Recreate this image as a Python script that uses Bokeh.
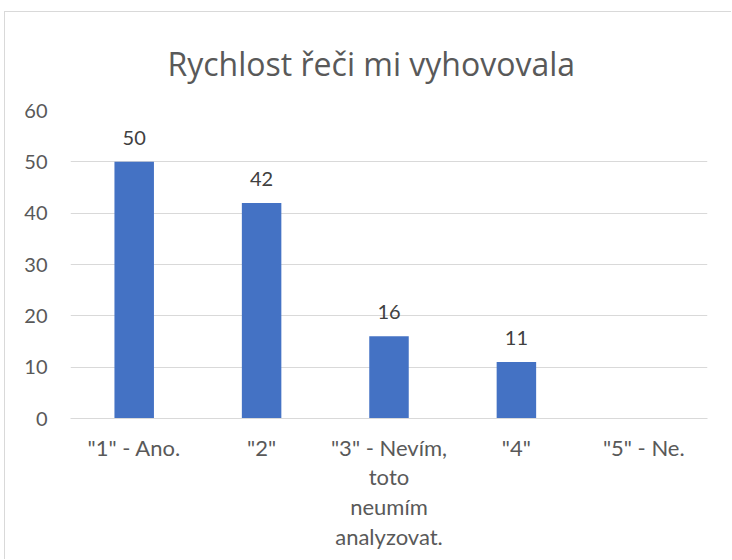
from bokeh.plotting import figure
from bokeh.models import ColumnDataSource, Range1d, FixedTicker, LabelSet
from bokeh.core.properties import value
from bokeh.embed import file_html
from bokeh.resources import INLINE

title_text = "Rychlost řeči mi vyhovovala"
categories = ['"1" - Ano.', '"2"', '"3" - Nevím,\ntoto\nneumím\nanalyzovat.', '"4"', '"5" - Ne.']
values = [50, 42, 16, 11, None]
y_ticks = [0, 10, 20, 30, 40, 50, 60]

FONT = "Lato"
GREY = "#595959"

vals = [float("nan") if v is None else v for v in values]
src = ColumnDataSource(dict(cat=categories, val=vals))
lab_src = ColumnDataSource(dict(
    cat=[c for c, v in zip(categories, values) if v is not None],
    val=[v for v in values if v is not None],
    txt=[str(v) for v in values if v is not None],
))

p = figure(x_range=categories, y_range=Range1d(0, y_ticks[-1]), width=727, height=548,
           output_backend="svg", toolbar_location=None,
           min_border_left=65, min_border_right=25, min_border_top=98, min_border_bottom=142,
           title=title_text)
p.styles = {"margin-left": "4px", "margin-top": "11px",
            "border-top": "1px solid #d9d9d9", "border-left": "1px solid #d9d9d9"}
p.outline_line_color = None

p.title.align = "left"
p.title.offset = 97
p.title.text_font = "Open Sans"
p.title.text_font_size = "32px"
p.title.text_font_style = "normal"
p.title.text_color = GREY
p.title.standoff = 52

p.vbar(x="cat", top="val", width=0.31, source=src, color="#4472C4", line_color=None)

labels = LabelSet(x="cat", y="val", text="txt", source=lab_src, text_align="center",
                  text_baseline="alphabetic", y_offset=17, text_font=value(FONT),
                  text_font_size=value("20px"), text_color=value("#404040"))
p.add_layout(labels)

p.yaxis.ticker = FixedTicker(ticks=y_ticks)
p.yaxis.axis_line_color = None
p.yaxis.major_tick_line_color = None
p.yaxis.minor_tick_line_color = None
p.yaxis.major_label_text_font = FONT
p.yaxis.major_label_text_font_size = "20px"
p.yaxis.major_label_text_color = GREY
p.yaxis.major_label_standoff = 17

p.xaxis.axis_line_color = "#d9d9d9"
p.xaxis.major_tick_line_color = None
p.xaxis.minor_tick_line_color = None
p.xaxis.major_label_text_font = FONT
p.xaxis.major_label_text_font_size = "22px"
p.xaxis.major_label_text_color = GREY
p.xaxis.major_label_standoff = 9
p.xaxis.major_label_text_line_height = 1.11

p.xgrid.grid_line_color = None
p.ygrid.grid_line_color = "#d9d9d9"
p.ygrid.grid_line_width = 1

open("out.html", "w").write(file_html(p, INLINE))
